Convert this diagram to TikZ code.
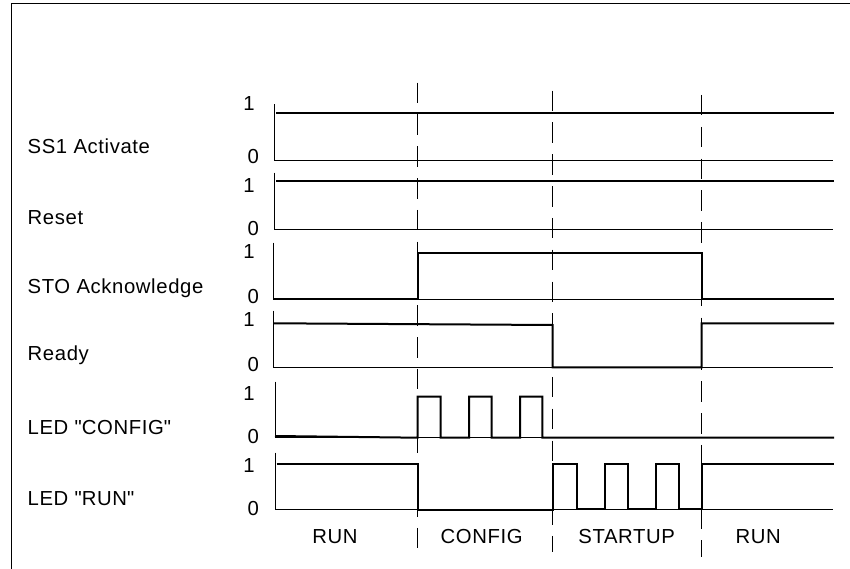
\documentclass[tikz,border=0pt]{standalone}
\usepackage{fontspec}
\setmainfont{Liberation Sans}[LetterSpace=3]
\begin{document}
\begin{tikzpicture}[x=1pt,y=-1pt,
  sig/.style={line width=2pt, line join=miter},
  axis/.style={line width=0.9pt},
  sep/.style={line width=1pt, dash pattern=on 20.5pt off 11.3pt},
  lbl/.style={font=\fontsize{20.3}{23}\selectfont, inner sep=0pt, anchor=base west},
  num/.style={font=\fontsize{20.3}{23}\selectfont, inner sep=0pt, anchor=base},
]
\useasboundingbox (0,0) rectangle (850,569);
\draw[line width=1.3pt] (11.7,569) -- (11.7,3.3) -- (850,3.3);

% phase separators
\draw[sep] (417.7,82.7) -- (417.7,550);
\draw[sep] (552.7,90.7) -- (552.7,552);
\draw[sep] (701.7,95) -- (701.7,557);

% SS1 Activate
\draw[axis] (274,104.3) -- (274,160) -- (833,160);
\draw[sig] (276,112.7) -- (834,112.7);
% Reset
\draw[axis] (274,172.7) -- (274,229) -- (833,229);
\draw[sig] (276,181) -- (834,181);
% STO Acknowledge
\draw[axis] (273.5,242.7) -- (273.5,299) -- (833,299);
\draw[sig] (274,299) -- (417.7,299) -- (417.7,253.3) -- (701.7,253.3) -- (701.7,299) -- (834,299);
% Ready
\draw[axis] (273.5,310.7) -- (273.5,367.3) -- (833,367.3);
\draw[sig] (274,323.3) -- (552.7,325) -- (552.7,367.3) -- (701.7,367.3) -- (701.7,323.3) -- (834,323.3);
% LED CONFIG
\draw[axis] (275,381.7) -- (275,437.7) -- (833,437.7);
\draw[sig] (275,436) -- (417.7,437.7) -- (417.7,396.7) -- (440.7,396.7) -- (440.7,437.7)
  -- (469,437.7) -- (469,396.7) -- (491.7,396.7) -- (491.7,437.7)
  -- (520,437.7) -- (520,396.7) -- (542.3,396.7) -- (542.3,437.7) -- (834,437.7);
% LED RUN
\draw[axis] (275,452.7) -- (275,509.3) -- (833,509.3);
\draw[sig] (276.7,464.3) -- (418.3,464.3) -- (418.3,509.8) -- (553.3,509.8) -- (553.3,464.3)
  -- (576.7,464.3) -- (576.7,509) -- (605,509) -- (605,464.3) -- (628.3,464.3)
  -- (628.3,509) -- (656,509) -- (656,464.3) -- (679,464.3) -- (679,509)
  -- (701.7,509) -- (701.7,464.3) -- (834,464.3);

% signal names
\node[lbl] (nSS1) at (27.5,153.3) {SS1 Activate};
\node[lbl] (nRes) at (27.5,224.3) {Reset};
\node[lbl] (nSTO) at (27.5,293.3) {STO Acknowledge};
\node[lbl] (nRdy) at (27.5,360) {Ready};
\node[lbl] (nCfg) at (27.5,434) {LED \textquotedbl CONFIG\textquotedbl};
\node[lbl] (nRun) at (27.5,505.7) {LED \textquotedbl RUN\textquotedbl};

% levels
\node[num] (h1) at (249,111) {1};
\node[num] (l1) at (253.3,163.5) {0};
\node[num] (h2) at (249,192.7) {1};
\node[num] (l2) at (253.3,235) {0};
\node[num] (h3) at (249,258.3) {1};
\node[num] (l3) at (253.3,303.3) {0};
\node[num] (h4) at (249,326.7) {1};
\node[num] (l4) at (253.3,371.7) {0};
\node[num] (h5) at (249,400.7) {1};
\node[num] (l5) at (253.3,443.3) {0};
\node[num] (h6) at (249,472.3) {1};
\node[num] (l6) at (253.3,515) {0};

% phases
\node[num] (p1) at (335,543.3) {RUN};
\node[num] (p2) at (481.7,543.3) {CONFIG};
\node[num] (p3) at (626.7,543.3) {STARTUP};
\node[num] (p4) at (758.3,543.3) {RUN};
\end{tikzpicture}
\end{document}
